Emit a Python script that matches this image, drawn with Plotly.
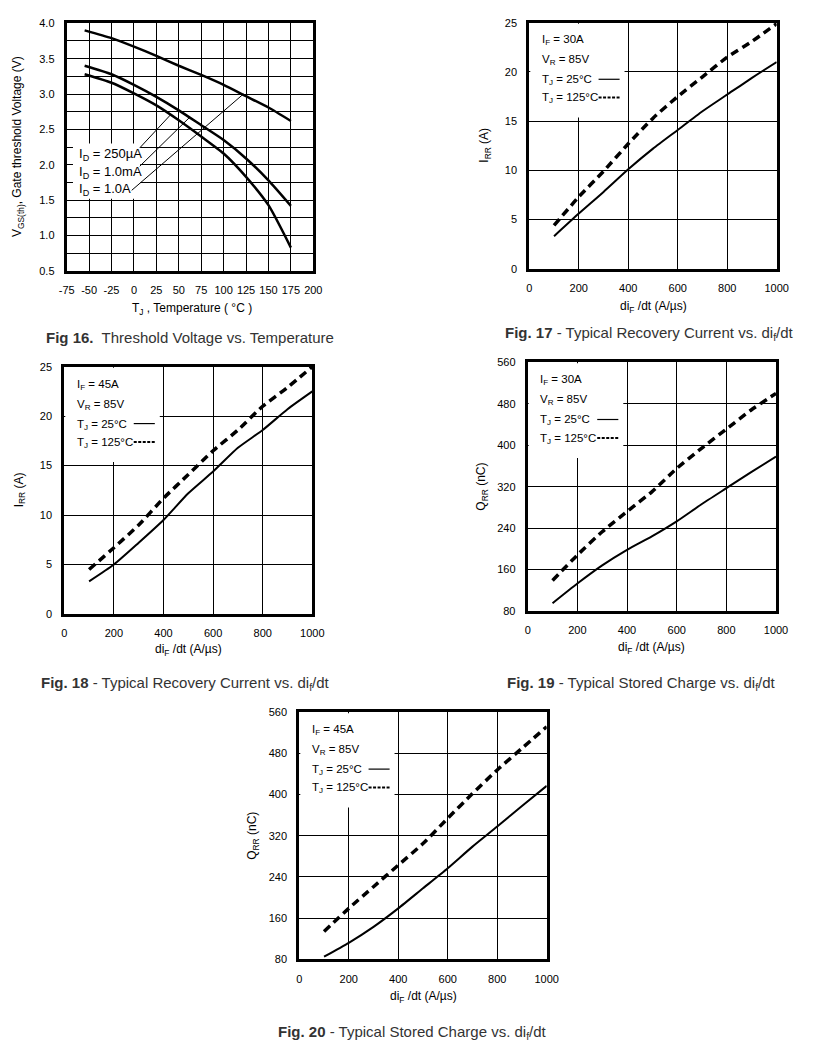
import plotly.graph_objects as go

# ---------------- data ----------------
# Fig 16: threshold voltage vs temperature
temp_c = [-55, -25, 0, 25, 50, 75, 100, 125, 150, 175]
vth_1A = [3.90, 3.79, 3.67, 3.54, 3.40, 3.27, 3.13, 2.97, 2.81, 2.62]
vth_1mA = [3.40, 3.28, 3.13, 2.96, 2.77, 2.56, 2.35, 2.09, 1.78, 1.42]
vth_250uA = [3.28, 3.16, 3.01, 2.84, 2.63, 2.40, 2.16, 1.83, 1.43, 0.83]
temp_ticks = [-75, -50, -25, 0, 25, 50, 75, 100, 125, 150, 175, 200]
temp_ticktext = ["-75", "-50", "-25", "0", "25", "50", "75", "100", "125", "150", "175", "200"]

# di/dt axis shared by Fig 17-20
didt = [100, 200, 300, 400, 500, 600, 700, 800, 900, 1000]

# Fig 17: IRR, IF = 30A
irr30_25 = [3.3, 5.6, 7.8, 10.1, 12.2, 14.1, 16.0, 17.7, 19.4, 21.0]
irr30_125 = [4.4, 7.3, 9.9, 12.7, 15.3, 17.5, 19.5, 21.5, 23.1, 24.9]
# Fig 18: IRR, IF = 45A
irr45_25 = [3.3, 5.0, 7.2, 9.5, 12.2, 14.4, 16.8, 18.6, 20.7, 22.5]
irr45_125 = [4.5, 6.7, 9.0, 11.7, 14.1, 16.5, 18.6, 21.0, 22.9, 25.0]
# Fig 19: QRR, IF = 30A
qrr30_25 = [95, 133, 168, 198, 224, 253, 286, 317, 348, 378]
qrr30_125 = [139, 188, 233, 272, 310, 355, 394, 431, 468, 500]
# Fig 20: QRR, IF = 45A
qrr45_25 = [85, 112, 143, 179, 218, 257, 299, 338, 378, 417]
qrr45_125 = [134, 179, 221, 263, 305, 354, 402, 448, 490, 532]

# page body has an 8px margin; the figure fills the rest of the 813x1044 window
OFF = 8
W, H = 813 - OFF, 1044 - OFF
FONT = "Arial, Liberation Sans, Helvetica, sans-serif"


def px(x):
    return (x - OFF) / W


def py(y):
    return 1 - (y - OFF) / H


fig = go.Figure()
annotations = []
shapes = []


def axis_common(**kw):
    d = dict(
        automargin=False,
        showgrid=True, gridcolor="black", gridwidth=1,
        showline=True, linecolor="black", linewidth=3, mirror=True,
        ticks="outside", ticklen=7, tickcolor="rgba(0,0,0,0)",
        zeroline=False, tickfont=dict(size=11, color="black", family=FONT),
        fixedrange=True,
    )
    d.update(kw)
    return d


def text(x, y, t, size=12, xanchor="left", angle=0, color="black"):
    annotations.append(dict(
        x=px(x), y=py(y), xref="paper", yref="paper", text=t, showarrow=False,
        xanchor=xanchor, yanchor="middle", textangle=angle,
        font=dict(size=size, color=color, family=FONT),
    ))


# panel pixel boxes in the window: (left, right, top, bottom)
panels = {
    1: (66.7, 313.3, 23.3, 271.0),
    2: (529.3, 776.7, 22.7, 268.7),
    3: (64.3, 312.3, 366.7, 614.0),
    4: (527.7, 776.0, 362.3, 611.0),
    5: (299.3, 546.7, 712.3, 959.3),
}

layout_axes = {}
for i, (l, r, t, b) in panels.items():
    xa = "xaxis" if i == 1 else f"xaxis{i}"
    ya = "yaxis" if i == 1 else f"yaxis{i}"
    xid = "x" if i == 1 else f"x{i}"
    yid = "y" if i == 1 else f"y{i}"
    layout_axes[xa] = dict(domain=[px(l), px(r)], anchor=yid)
    layout_axes[ya] = dict(domain=[py(b), py(t)], anchor=xid)

# ---- Fig 16 ----
layout_axes["xaxis"].update(axis_common(range=[-75, 200], tickmode="array",
                                        tickvals=temp_ticks, ticktext=temp_ticktext))
layout_axes["yaxis"].update(axis_common(
    range=[0.5, 4.0], tick0=0.5, dtick=0.5, tickformat=".1f",
    minor=dict(dtick=0.25, tick0=0.5, showgrid=True, gridcolor="black", gridwidth=1, ticks="")))
for ys in (vth_1A, vth_1mA, vth_250uA):
    fig.add_trace(go.Scatter(x=temp_c, y=ys, mode="lines", xaxis="x", yaxis="y",
                             line=dict(color="black", width=2.5, shape="spline", smoothing=0.6),
                             showlegend=False, hoverinfo="skip"))
shapes.append(dict(type="rect", xref="x", yref="y", x0=-68, x1=7, y0=1.52, y1=2.30,
                   fillcolor="white", line=dict(width=0), layer="above"))
# leader lines (label -> curve)
for (x0, y0, x1, y1) in [(6.5, 2.24, 41, 2.71), (6.5, 1.98, 62, 2.67), (-2.5, 1.64, 122, 3.0)]:
    shapes.append(dict(type="line", xref="x", yref="y", x0=x0, y0=y0, x1=x1, y1=y1,
                       line=dict(color="black", width=1), layer="above"))
text(77, 154, "I<sub>D</sub> = 250µA", size=13)
text(77, 172, "I<sub>D</sub> = 1.0mA", size=13)
text(77, 190, "I<sub>D</sub> = 1.0A", size=13)
text(192, 309, "T<sub>J</sub> , Temperature ( °C )", size=12, xanchor="center")
text(18, 147, "V<sub>GS(th)</sub>, Gate threshold Voltage (V)", size=12, xanchor="center", angle=-90)
text(190, 338, "<b>Fig 16.</b>  Threshold Voltage vs. Temperature", size=15, xanchor="center", color="#333")

# ---- Fig 17-20 ----
specs = [
    (2, irr30_25, irr30_125, [0, 25], 5, "30A", "I<sub>RR</sub> (A)",
     "<b>Fig. 17</b> - Typical Recovery Current vs. di<sub>f</sub>/dt", 649, 333, 485, 307),
    (3, irr45_25, irr45_125, [0, 25], 5, "45A", "I<sub>RR</sub> (A)",
     "<b>Fig. 18</b> - Typical Recovery Current vs. di<sub>f</sub>/dt", 185, 683, 20, 650),
    (4, qrr30_25, qrr30_125, [80, 560], 80, "30A", "Q<sub>RR</sub> (nC)",
     "<b>Fig. 19</b> - Typical Stored Charge vs. di<sub>f</sub>/dt", 641, 683, 482, 648),
    (5, qrr45_25, qrr45_125, [80, 560], 80, "45A", "Q<sub>RR</sub> (nC)",
     "<b>Fig. 20</b> - Typical Stored Charge vs. di<sub>f</sub>/dt", 412, 1032, 253, 997),
]
for (i, s25, s125, yr, ydt, ifv, ytitle, cap, capx, capy, ytx, xty) in specs:
    xa, ya = f"xaxis{i}", f"yaxis{i}"
    xid, yid = f"x{i}", f"y{i}"
    layout_axes[xa].update(axis_common(range=[0, 1000], tick0=0, dtick=200))
    layout_axes[ya].update(axis_common(range=yr, tick0=yr[0], dtick=ydt))
    fig.add_trace(go.Scatter(x=didt, y=s25, mode="lines", xaxis=xid, yaxis=yid,
                             line=dict(color="black", width=2, shape="spline", smoothing=0.6),
                             showlegend=False, hoverinfo="skip"))
    fig.add_trace(go.Scatter(x=didt, y=s125, mode="lines", xaxis=xid, yaxis=yid,
                             line=dict(color="black", width=3.5, dash="8px,5px", shape="spline", smoothing=0.6),
                             showlegend=False, hoverinfo="skip"))
    # white box behind the legend text
    shapes.append(dict(type="rect", xref=f"{xid} domain", yref=f"{yid} domain",
                       x0=0.004, x1=0.385, y0=0.615, y1=0.996, fillcolor="white",
                       line=dict(width=0), layer="above"))
    l, r, t, b = panels[i]
    w, h = r - l, b - t
    tx = l + 0.043 * w
    rows = [0.928, 0.847, 0.766, 0.692]
    ys = [b - f * h for f in rows]
    text(tx, ys[0], f"I<sub>F</sub> = {ifv}", size=11.5)
    text(tx, ys[1], "V<sub>R</sub> = 85V", size=11.5)
    text(tx, ys[2], "T<sub>J</sub> = 25°C", size=11.5)
    text(tx, ys[3], "T<sub>J</sub> = 125°C", size=11.5)
    shapes.append(dict(type="line", xref=f"{xid} domain", yref=f"{yid} domain",
                       x0=0.28, x1=0.365, y0=rows[2] + 0.004, y1=rows[2] + 0.004,
                       line=dict(color="black", width=1.2), layer="above"))
    shapes.append(dict(type="line", xref=f"{xid} domain", yref=f"{yid} domain",
                       x0=0.28, x1=0.365, y0=rows[3] + 0.004, y1=rows[3] + 0.004,
                       line=dict(color="black", width=2, dash="3px,1.5px"), layer="above"))
    text((l + r) / 2, xty, "di<sub>F</sub> /dt (A/µs)", size=12, xanchor="center")
    text(ytx, (t + b) / 2, ytitle, size=12, xanchor="center", angle=-90)
    text(capx, capy, cap, size=15, xanchor="center", color="#333")

fig.update_layout(
    width=W, height=H, margin=dict(l=0, r=0, t=0, b=0, autoexpand=False),
    paper_bgcolor="white", plot_bgcolor="white",
    font=dict(family=FONT, color="black"),
    annotations=annotations, shapes=shapes, showlegend=False,
    **layout_axes,
)

fig.write_html("out.html")
